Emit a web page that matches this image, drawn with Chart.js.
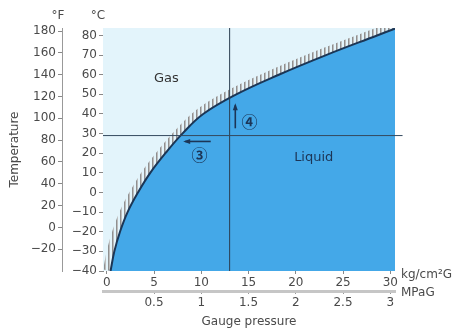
<!DOCTYPE html>
<html><head><meta charset="utf-8">
<script src="https://cdn.jsdelivr.net/npm/chart.js@4/dist/chart.umd.min.js"></script>
<style>html,body{margin:0;padding:0;background:#fff}canvas{display:block}</style>
</head><body>
<canvas id="c" width="461" height="331"></canvas>
<script>
// Saturation curve: gauge pressure (kg/cm²G) vs temperature (°C)
const pressureKg = [0.4, 0.8, 1.4, 2.2, 3.3, 4.6, 6.2, 8.0, 10.2, 13.7, 18.2, 23.2, 28.6, 30.5];
const tempC      = [-40, -30, -20, -10, 0, 10, 20, 30, 40, 50, 60, 70, 80, 83.5];
// Axis ranges and ticks
const kgRange = [-0.4, 30.5];
const cRange = [-40, 83.8];
const kgTicks = [0, 5, 10, 15, 20, 25, 30];
const mpaTicks = [0.5, 1, 1.5, 2, 2.5, 3];
const cTicks = [-40, -30, -20, -10, 0, 10, 20, 30, 40, 50, 60, 70, 80];
const fTicks = [-20, 0, 20, 40, 60, 80, 100, 120, 140, 160, 180];
// Reference lines
const refPressure = 13.0;   // kg/cm²G
const refTemp = 29;         // °C
const hLineEnd = 31.3;
// Arrows [pressure, temp]
const arrow4 = [[13.6, 32.7], [13.6, 44.4]];
const arrow3 = [[11.0, 26.0], [8.3, 26.0]];
// Labels [text, pressure, temp]
const labels = [['Gas', 6.3, 58], ['Liquid', 21.9, 18]];
const circled = [['④', 15.1, 35.7], ['③', 9.8, 19]];

const toF = c => c * 9 / 5 + 32;
const FONT = 'DejaVu Sans';
const TXT = '#4a4a4a';

const curve = pressureKg.map((p, i) => ({x: p, y: tempC[i]}));

// vertical stripe pattern for the hatch
const pc = document.createElement('canvas'); pc.width = 4; pc.height = 1;
const pctx = pc.getContext('2d');
pctx.fillStyle = '#8f8f8f'; pctx.fillRect(0, 0, 1, 1);
pctx.fillStyle = '#bdbdbd'; pctx.fillRect(1, 0, 1, 1);
const hatch = document.getElementById('c').getContext('2d').createPattern(pc, 'repeat');

const fmt = v => v < 0 ? '\u2212' + Math.abs(v) : String(v);

const bgPlugin = {
  id: 'bg',
  beforeDatasetsDraw(chart) {
    const {ctx, chartArea: a} = chart;
    ctx.save(); ctx.fillStyle = '#e3f4fb';
    ctx.fillRect(a.left, a.top, a.right - a.left, a.bottom - a.top);
    ctx.restore();
  }
};

const annPlugin = {
  id: 'ann',
  afterDatasetsDraw(chart) {
    const {ctx, scales: {x, y}} = chart;
    ctx.save();
    ctx.textBaseline = 'middle'; ctx.textAlign = 'center';
    labels.forEach(([t, p, c]) => {
      ctx.font = '13px "' + FONT + '"';
      ctx.fillStyle = t === 'Gas' ? '#333' : '#1c3556';
      ctx.fillText(t, x.getPixelForValue(p), y.getPixelForValue(c));
    });
    circled.forEach(([t, p, c]) => {
      ctx.font = 'bold 16px "Noto Sans CJK JP"';
      ctx.fillStyle = '#1c3556';
      ctx.fillText(t, x.getPixelForValue(p), y.getPixelForValue(c));
    });
    const arrow = (a) => {
      const x0 = x.getPixelForValue(a[0][0]), y0 = y.getPixelForValue(a[0][1]);
      const x1 = x.getPixelForValue(a[1][0]), y1 = y.getPixelForValue(a[1][1]);
      const ang = Math.atan2(y1 - y0, x1 - x0);
      ctx.strokeStyle = '#1c3556'; ctx.fillStyle = '#1c3556'; ctx.lineWidth = 1.6;
      ctx.beginPath(); ctx.moveTo(x0, y0); ctx.lineTo(x1, y1); ctx.stroke();
      ctx.beginPath();
      ctx.moveTo(x1 + Math.cos(ang) * 2, y1 + Math.sin(ang) * 2);
      ctx.lineTo(x1 - Math.cos(ang) * 5 + Math.sin(ang) * 2.5, y1 - Math.sin(ang) * 5 - Math.cos(ang) * 2.5);
      ctx.lineTo(x1 - Math.cos(ang) * 5 - Math.sin(ang) * 2.5, y1 - Math.sin(ang) * 5 + Math.cos(ang) * 2.5);
      ctx.closePath(); ctx.fill();
    };
    arrow(arrow4); arrow(arrow3);
    ctx.restore();
  },
  afterDraw(chart) {
    const {ctx, chartArea: a, scales: {x, y, x2, y2}} = chart;
    ctx.save();
    ctx.fillStyle = TXT; ctx.font = '12px "' + FONT + '"';
    ctx.textBaseline = 'middle'; ctx.textAlign = 'center';
    ctx.fillText('\u00B0F', y2.right - 4, 16);
    ctx.fillText('\u00B0C', y.right - 5, 16);
    ctx.textAlign = 'left';
    ctx.fillText('kg/cm\u00B2G', a.right + 6, x.top + 4);
    ctx.fillText('MPaG', a.right + 6, x2.top + 2);
    ctx.restore();
  }
};

new Chart(document.getElementById('c'), {
  type: 'line',
  data: {
    datasets: [
      { label: 'hatch', data: curve, order: 4, borderColor: hatch, borderWidth: 15,
        pointRadius: 0, fill: false, tension: 0.4 },
      { label: 'saturation', data: curve, order: 3, borderColor: '#1b3656', borderWidth: 2,
        pointRadius: 0, fill: 'start', backgroundColor: '#44a8e8', tension: 0.4 },
      { label: 'vline', data: [{x: refPressure, y: cRange[0]}, {x: refPressure, y: cRange[1]}], order: 2,
        borderColor: '#2c3e50', borderWidth: 1, pointRadius: 0, fill: false },
      { label: 'hline', data: [{x: kgRange[0], y: refTemp}, {x: hLineEnd, y: refTemp}], order: 1, clip: false,
        borderColor: '#34495e', borderWidth: 1, pointRadius: 0, fill: false }
    ]
  },
  options: {
    responsive: false, animation: false,
    layout: { padding: { left: 0, top: 28, right: 66, bottom: 0 } },
    plugins: { legend: { display: false }, tooltip: { enabled: false } },
    scales: {
      x: {
        type: 'linear', position: 'bottom', weight: 0, min: kgRange[0], max: kgRange[1],
        afterBuildTicks: s => { s.ticks = kgTicks.map(v => ({value: v})); },
        afterFit: s => { s.height = 20; },
        grid: { display: true, drawOnChartArea: false, tickLength: 3, color: '#888' },
        border: { display: false },
        ticks: { padding: 2, color: TXT, font: { family: FONT, size: 12 }, maxRotation: 0 }
      },
      x2: {
        type: 'linear', position: 'bottom', weight: 1, min: kgRange[0] / 10, max: kgRange[1] / 10,
        afterBuildTicks: s => { s.ticks = mpaTicks.map(v => ({value: v})); },
        afterFit: s => { s.height = 40; },
        grid: { display: true, drawOnChartArea: false, tickLength: 3, color: '#999' },
        border: { display: true, color: '#c6c6c6', width: 3 },
        ticks: { padding: 2, color: TXT, font: { family: FONT, size: 12 }, maxRotation: 0,
                 callback: v => String(v) },
        title: { display: true, text: 'Gauge pressure', color: TXT, font: { family: FONT, size: 12 },
                 padding: { top: 0, bottom: 2 } }
      },
      y: {
        type: 'linear', position: 'left', weight: 0, min: cRange[0], max: cRange[1],
        afterBuildTicks: s => { s.ticks = cTicks.map(v => ({value: v})); },
        afterFit: s => { s.width = 41; },
        grid: { display: true, drawOnChartArea: false, tickLength: 4, color: '#888' },
        border: { display: true, color: '#888', width: 1 },
        ticks: { padding: 2, color: TXT, font: { family: FONT, size: 12 }, callback: fmt }
      },
      y2: {
        type: 'linear', position: 'left', weight: 1, min: toF(cRange[0]), max: toF(cRange[1]),
        afterBuildTicks: s => { s.ticks = fTicks.map(v => ({value: v})); },
        afterFit: s => { s.width = 62; },
        grid: { display: true, drawOnChartArea: false, tickLength: 4, color: '#888' },
        border: { display: true, color: '#999', width: 1 },
        ticks: { padding: 2, color: TXT, font: { family: FONT, size: 12 }, callback: fmt },
        title: { display: true, text: 'Temperature', color: TXT, font: { family: FONT, size: 12 },
                 padding: { top: 8, bottom: 0 } }
      }
    }
  },
  plugins: [bgPlugin, annPlugin]
});
</script>
</body></html>
